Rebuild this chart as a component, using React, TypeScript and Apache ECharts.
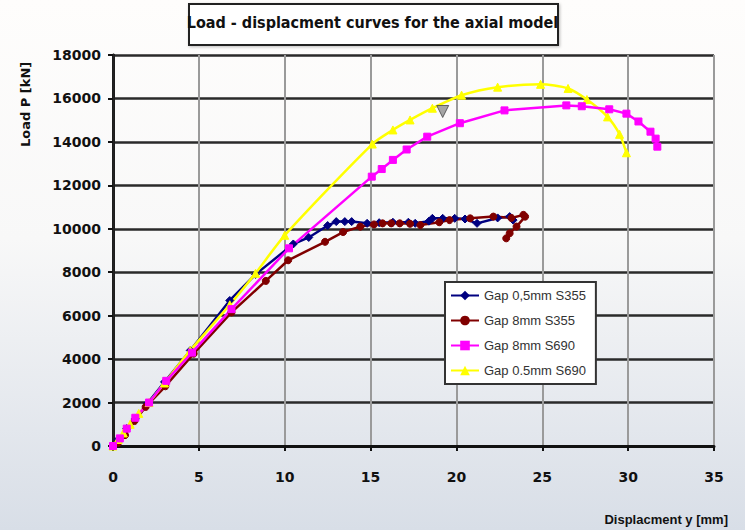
import React, { useEffect, useRef } from "react";
import * as echarts from "echarts";

// ---- Data ----
const xTicks = [0, 5, 10, 15, 20, 25, 30, 35];
const yTicks = [0, 2000, 4000, 6000, 8000, 10000, 12000, 14000, 16000, 18000];

const seriesNames = ["Gap 0,5mm S355", "Gap 8mm S355", "Gap 8mm S690", "Gap 0.5mm S690"];

const gap05S355X = [0, 0.3, 0.8, 1.3, 2.0, 3.0, 4.5, 6.8, 8.3, 10.5, 11.4, 12.5, 13.0, 13.5, 13.9, 14.8, 15.5, 16.3, 17.2, 17.6, 18.4, 18.6, 19.2, 19.9, 20.5, 21.2, 22.4, 23.1, 23.3];
const gap05S355Y = [0, 300, 800, 1250, 1950, 2950, 4400, 6700, 7900, 9300, 9600, 10150, 10330, 10330, 10330, 10250, 10280, 10300, 10300, 10250, 10350, 10480, 10480, 10480, 10450, 10250, 10500, 10560, 10400];

const gap8S355X = [0, 0.3, 0.7, 1.25, 1.9, 3.05, 4.7, 6.9, 8.9, 10.2, 12.35, 13.4, 14.4, 15.2, 15.7, 16.2, 16.7, 17.3, 17.9, 19.0, 19.6, 20.8, 22.15, 23.2, 23.9, 24.0, 23.5, 23.1, 22.9];
const gap8S355Y = [0, 150, 500, 1150, 1800, 2750, 4250, 6150, 7600, 8550, 9400, 9850, 10100, 10200, 10250, 10250, 10250, 10230, 10170, 10300, 10400, 10480, 10560, 10500, 10640, 10560, 10100, 9790, 9560];

const gap8S690X = [0, 0.4, 0.8, 1.3, 2.1, 3.1, 4.6, 6.9, 10.25, 15.07, 15.65, 16.3, 17.1, 18.3, 20.2, 22.8, 26.4, 27.3, 28.9, 29.9, 30.6, 31.3, 31.6, 31.7];
const gap8S690Y = [0, 350, 800, 1300, 2000, 3000, 4300, 6300, 9100, 12400, 12750, 13170, 13650, 14240, 14860, 15450, 15680, 15640, 15500, 15300, 14940, 14470, 14150, 13780];

const gap05S690X = [0, 0.3, 0.6, 1.0, 1.5, 2.1, 3.0, 4.5, 6.8, 8.3, 10.0, 15.1, 16.3, 17.3, 18.6, 20.3, 22.4, 24.9, 26.5, 27.6, 28.8, 29.5, 29.9];
const gap05S690Y = [0, 300, 600, 1000, 1500, 2000, 2900, 4400, 6500, 7950, 9700, 13900, 14550, 15010, 15550, 16150, 16520, 16650, 16460, 15950, 15150, 14350, 13500];

const greyMarkerX = [19.2];
const greyMarkerY = [15400];

const titleText = "Load - displacment curves for the axial model";
const yAxisName = "Load P [kN]";
const xAxisName = "Displacment y [mm]";

const zip = (xs: number[], ys: number[]) => xs.map((x, i) => [x, ys[i]]);

export default function App() {
  const ref = useRef<HTMLDivElement>(null);

  useEffect(() => {
    if (!ref.current) return;
    const chart = echarts.init(ref.current, null, { renderer: "svg" });
    const labelFont = "'Liberation Sans', 'DejaVu Sans', sans-serif";
    const lineSeries = (name: string, data: number[][], color: string, symbol: string, size: number, smooth: number | boolean = false) => ({
      name,
      type: "line",
      data,
      symbol,
      symbolSize: size,
      showSymbol: true,
      smooth,
      lineStyle: { color, width: 2.5 },
      itemStyle: { color, borderColor: color },
      z: 3,
    });

    chart.setOption({
      animation: false,
      backgroundColor: {
        type: "linear",
        x: 0, y: 0, x2: 0, y2: 1,
        colorStops: [
          { offset: 0, color: "#fefdfc" },
          { offset: 0.45, color: "#f8f8f8" },
          { offset: 1, color: "#d8dee7" },
        ],
      },
      grid: { left: 113, right: 31, top: 55, bottom: 84, containLabel: false },
      legend: {
        data: seriesNames,
        orient: "vertical",
        left: 445,
        top: 282,
        backgroundColor: "#ffffff",
        borderColor: "#333333",
        borderWidth: 2,
        padding: [7, 10, 7, 5],
        itemGap: 12,
        itemWidth: 28,
        itemHeight: 12,
        textStyle: { fontFamily: labelFont, fontSize: 13, color: "#333" },
      },
      xAxis: {
        type: "value",
        min: xTicks[0],
        max: xTicks[xTicks.length - 1],
        interval: xTicks[1] - xTicks[0],
        axisLine: { show: true, onZero: false, lineStyle: { color: "#111", width: 3 } },
        axisTick: { show: true, length: 5, lineStyle: { color: "#111", width: 2 } },
        axisLabel: { margin: 24, fontFamily: "'DejaVu Sans', sans-serif", fontWeight: "bold", fontSize: 14, color: "#111" },
        splitLine: { show: true, lineStyle: { color: "#9a9a9a", width: 2 } },
      },
      yAxis: [
        {
          type: "value",
          min: yTicks[0],
          max: yTicks[yTicks.length - 1],
          interval: yTicks[1] - yTicks[0],
          axisLine: { show: true, onZero: false, lineStyle: { color: "#111", width: 3 } },
          axisTick: { show: true, length: 5, lineStyle: { color: "#111", width: 2 } },
          axisLabel: {
            margin: 12,
            formatter: (v: number) => String(v),
            fontFamily: "'DejaVu Sans', sans-serif",
            fontWeight: "bold",
            fontSize: 14,
            color: "#111",
          },
          splitLine: { show: true, lineStyle: { color: "#2a2a2a", width: 2.5 } },
        },
        {
          type: "value",
          position: "right",
          min: yTicks[0],
          max: yTicks[yTicks.length - 1],
          interval: yTicks[1] - yTicks[0],
          axisLine: { show: true, lineStyle: { color: "#222", width: 2.5 } },
          axisTick: { show: false },
          axisLabel: { show: false },
          splitLine: { show: false },
        },
      ],
      series: [
        lineSeries(seriesNames[0], zip(gap05S355X, gap05S355Y), "#000080", "diamond", 8),
        lineSeries(seriesNames[1], zip(gap8S355X, gap8S355Y), "#800000", "circle", 7),
        lineSeries(seriesNames[3], zip(gap05S690X, gap05S690Y), "#ffff00", "triangle", 8, 0.25),
        lineSeries(seriesNames[2], zip(gap8S690X, gap8S690Y), "#ff00ff", "rect", 7),
        {
          name: "marker",
          type: "scatter",
          data: zip(greyMarkerX, greyMarkerY),
          symbol: "triangle",
          symbolRotate: 180,
          symbolSize: 12,
          itemStyle: { color: "#909090", borderColor: "#444", borderWidth: 1 },
          z: 5,
        },
      ],
      graphic: [
        {
          type: "rect",
          left: 188,
          top: 3,
          shape: { width: 369, height: 41 },
          style: { fill: "#ffffff", stroke: "#222", lineWidth: 2, shadowColor: "rgba(0,0,0,0.25)", shadowBlur: 3, shadowOffsetX: 1, shadowOffsetY: 1 },
        },
        {
          type: "text",
          left: "center",
          top: 14,
          style: {
            text: titleText,
            font: "bold 16px 'Liberation Sans Narrow', 'DejaVu Sans Condensed', 'Liberation Sans', sans-serif",
            fill: "#111",
          },
        },
        {
          type: "text",
          rotation: Math.PI / 2,
          x: 19,
          y: 147,
          style: {
            text: yAxisName,
            font: "bold 13px 'DejaVu Sans', sans-serif",
            fill: "#111",
            align: "left",
            verticalAlign: "top",
          },
        },
        {
          type: "text",
          x: 728,
          y: 519,
          style: {
            text: xAxisName,
            font: "bold 13px 'Liberation Sans', sans-serif",
            fill: "#111",
            align: "right",
            verticalAlign: "middle",
          },
        },
      ],
    });
    return () => chart.dispose();
  }, []);

  return <div ref={ref} style={{ position: "fixed", left: 0, top: 0, width: 745, height: 530 }} />;
}
